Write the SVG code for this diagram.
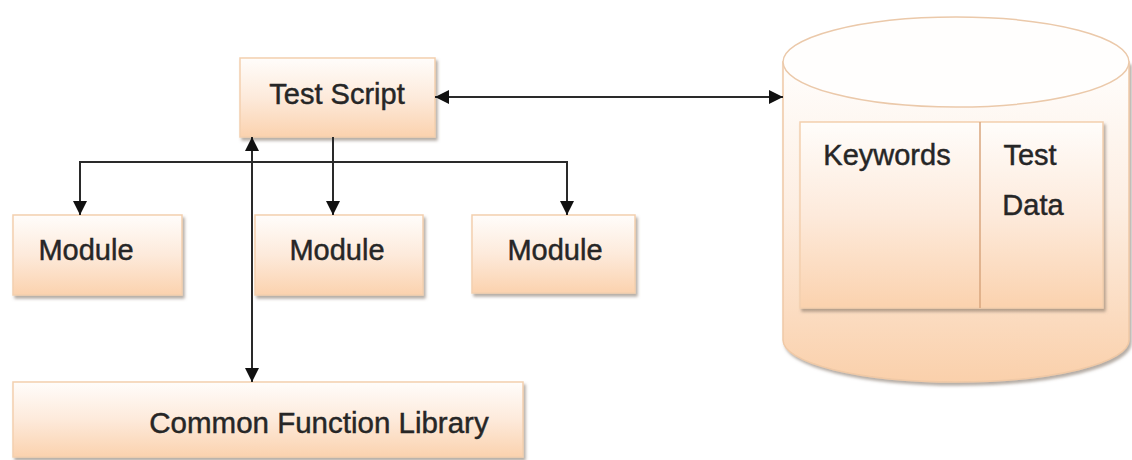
<svg xmlns="http://www.w3.org/2000/svg" width="1132" height="460" viewBox="0 0 1132 460">
  <style>
    .box { fill: url(#peach); stroke: #f3cfae; stroke-width: 1.5; filter: url(#shadow); }
    .label { font-family: "Liberation Sans", Arial, sans-serif; font-size: 29px; fill: #262626; stroke: #262626; stroke-width: 0.45; text-anchor: middle; }
    .wire { fill: none; stroke: #2a2a2a; stroke-width: 2; }
  </style>
  <defs>
    <linearGradient id="peach" x1="0" y1="0" x2="0" y2="1">
      <stop offset="0" stop-color="#fffdfb"/>
      <stop offset="0.5" stop-color="#fdeadb"/>
      <stop offset="1" stop-color="#fbd2ae"/>
    </linearGradient>
    <linearGradient id="drum" x1="0" y1="0" x2="0" y2="1">
      <stop offset="0" stop-color="#fffefd"/>
      <stop offset="0.45" stop-color="#fdeee2"/>
      <stop offset="1" stop-color="#fad0ab"/>
    </linearGradient>
    <filter id="shadow" x="-10%" y="-10%" width="125%" height="130%">
      <feDropShadow dx="2" dy="3" stdDeviation="1.5" flood-color="#7a6a5c" flood-opacity="0.55"/>
    </filter>
    <marker id="head" markerUnits="userSpaceOnUse" markerWidth="16" markerHeight="14" refX="14" refY="7" orient="auto-start-reverse">
      <path d="M0,0 L14,7 L0,14 Z" fill="#111"/>
    </marker>
  </defs>

  <!-- Test Script -->
  <g id="test-script">
    <rect class="box" x="240" y="58" width="195" height="79"/>
    <text class="label" x="337" y="104">Test Script</text>
  </g>

  <!-- modules -->
  <g id="module-1">
    <rect class="box" x="13" y="215" width="169" height="80"/>
    <text class="label" x="86" y="260">Module</text>
  </g>
  <g id="module-2">
    <rect class="box" x="255" y="215" width="168" height="80"/>
    <text class="label" x="337" y="260">Module</text>
  </g>
  <g id="module-3">
    <rect class="box" x="472" y="215" width="163" height="78"/>
    <text class="label" x="555" y="260">Module</text>
  </g>

  <!-- Common Function Library -->
  <g id="common-function-library">
    <rect class="box" x="13" y="382" width="510" height="75"/>
    <text class="label" x="319" y="433" style="font-size:29.5px">Common Function Library</text>
  </g>

  <!-- data store: keywords and test data -->
  <g id="data-store">
    <path d="M783,62 L783,340 A173,42 0 0 0 1129,340 L1129,62 Z" fill="url(#drum)" stroke="#f0c9a6" stroke-width="1.5" filter="url(#shadow)"/>
    <ellipse cx="956" cy="62" rx="173" ry="45" fill="#fffefd" stroke="#ebc9aa" stroke-width="1.5"/>
    <rect class="box" x="800" y="122" width="303" height="186"/>
    <line x1="980" y1="122" x2="980" y2="308" stroke="#d9a67e" stroke-width="1.5"/>
    <text class="label" x="887" y="165">Keywords</text>
    <text class="label" x="1030" y="165">Test</text>
    <text class="label" x="1033" y="215">Data</text>
  </g>

  <!-- connectors -->
  <g id="connectors">
    <path class="wire" d="M435,97 L783,97" marker-start="url(#head)" marker-end="url(#head)"/>
    <path class="wire" d="M333,137 L333,215" marker-end="url(#head)"/>
    <path class="wire" d="M80,162 L567,162"/>
    <path class="wire" d="M80,161 L80,215" marker-end="url(#head)"/>
    <path class="wire" d="M567,161 L567,215" marker-end="url(#head)"/>
    <path class="wire" d="M252,137 L252,382" marker-start="url(#head)" marker-end="url(#head)"/>
  </g>
</svg>
